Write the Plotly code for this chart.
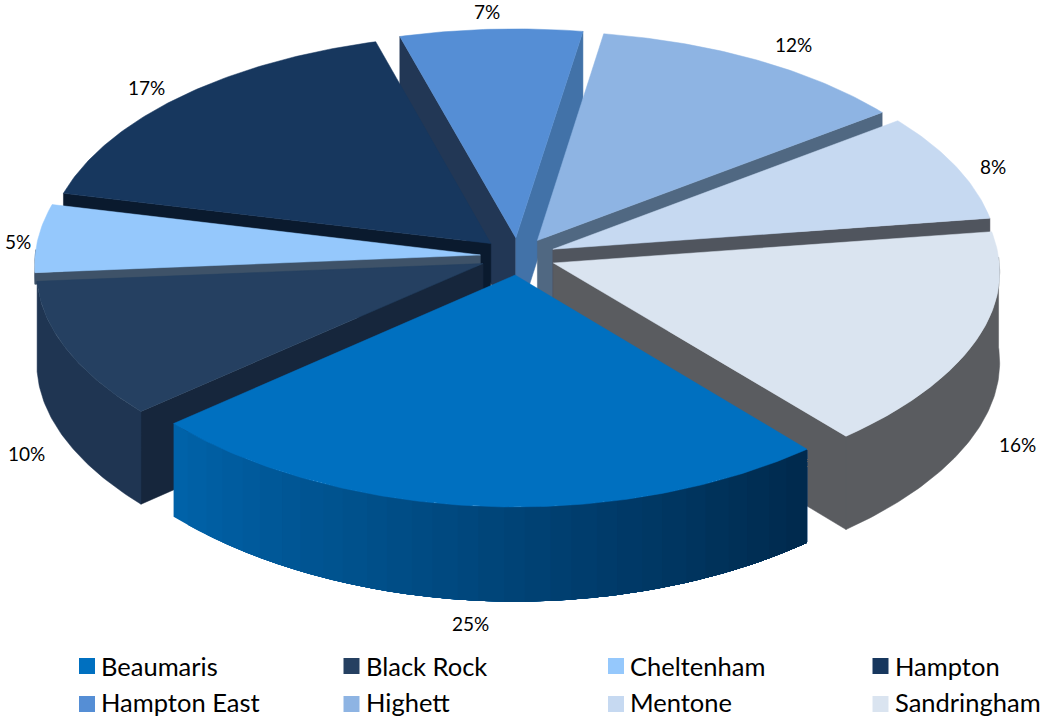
import math
import plotly.graph_objects as go

categories = ["Beaumaris", "Black Rock", "Cheltenham", "Hampton", "Hampton East", "Highett", "Mentone", "Sandringham"]
shares = [25, 10, 5, 16.88, 6.92, 12.2, 8, 16]
labels = ["25%", "10%", "5%", "17%", "7%", "12%", "8%", "16%"]

top_colors = ["#0070C0", "#254061", "#95C8FC", "#17375E", "#558ED5", "#8EB4E3", "#C6D9F1", "#DAE4F0"]
rim_colors = ["#0062A8", "#1F3552", "#3E5268", "#0A1A2E", "#4272A8", "#506882", "#50555E", "#5A5C60"]
start_wall = ["#0062A8", "#16263C", "#3E5268", "#0A1A2E", "#223755", "#506882", "#50555E", "#5A5C60"]
end_wall = ["#002A4E", "#16263C", "#3E5268", "#0A1A2E", "#4272A8", "#506882", "#50555E", "#5A5C60"]
gradient_end = ["#002A4E", None, None, None, None, None, None, None]
wall_depth = [93, 93, 12, 93, 93, 93, 93, 93]

# pixel offsets of each label from the middle of its slice's outer arc
label_dx = [-11, -40, -20, -34, -4, 36, 37, 42]
label_dy = [117, 104, 3, -9, -18, -16, 0, 103]

START = 139.4
CX, CY = 518.0, 256.4
R, EXPLODE = 460.0, 39.0
K, P, V0 = 0.4938, 1.0e-4, -330.0
NEAR_SQUEEZE = 0.022
FONT = "Lato, Carlito, sans-serif"


def project(u, v, drop=0.0):
    s = 1.0 / (1.0 + P * (v - V0))
    g = 1.0 - NEAR_SQUEEZE * (v / 330.0) ** 2 if v < 0 else 1.0
    return CX + u * s * g, CY - K * v * s + drop * s


def polar(theta, radius, bis):
    t, b = math.radians(theta), math.radians(bis)
    return radius * math.sin(t) + EXPLODE * math.sin(b), radius * math.cos(t) + EXPLODE * math.cos(b)


def mix(c1, c2, f):
    a = [int(c1[i:i + 2], 16) for i in (1, 3, 5)]
    b = [int(c2[i:i + 2], 16) for i in (1, 3, 5)]
    return "#" + "".join(f"{round(x + (y - x) * f):02X}" for x, y in zip(a, b))


fig = go.Figure()


def poly(points, color, edge=0.5):
    xs = [p[0] for p in points] + [points[0][0]]
    ys = [p[1] for p in points] + [points[0][1]]
    fig.add_trace(go.Scatter(x=xs, y=ys, mode="lines", fill="toself", fillcolor=color,
                             line=dict(color=color, width=edge), hoverinfo="skip", showlegend=False))


total = sum(shares)
slices = []
a = START
for i, share in enumerate(shares):
    b = a + 360.0 * share / total
    slices.append((i, a, b, (a + b) / 2))
    a = b

annotations = []
for i, a, b, mid in sorted(slices, key=lambda s: -math.cos(math.radians(s[3]))):
    apex = polar(0, 0, mid)
    n = max(12, int((b - a) * 1.5))
    thetas = [a + (b - a) * j / n for j in range(n + 1)]
    arc = [polar(t, R, mid) for t in thetas]
    depth = wall_depth[i]

    # walls from the apex to the rim
    if math.sin(math.radians(a)) < 0:
        poly([project(*apex), project(*arc[0]), project(*arc[0], depth), project(*apex, depth)], start_wall[i])
    if math.sin(math.radians(b)) > 0:
        poly([project(*apex), project(*arc[-1]), project(*arc[-1], depth), project(*apex, depth)], end_wall[i])

    # outer wall: only the part that faces the viewer
    front = [j for j in range(n + 1) if math.cos(math.radians(thetas[j])) < 0.03]
    if front:
        upper = [project(*arc[j]) for j in front]
        lower = [project(*arc[j], depth) for j in front]
        if gradient_end[i] is None:
            poly(upper + lower[::-1], rim_colors[i])
        else:
            # painted from the light (left) end, each band shrinking towards the dark right end
            bands = 30
            m = len(front) - 1
            for k in range(bands):
                j0 = m - int(m * k / bands)
                poly(upper[:j0 + 1] + lower[:j0 + 1][::-1],
                     mix(rim_colors[i], gradient_end[i], k / (bands - 1)), edge=0)

    # top face
    poly([project(*apex)] + [project(*p) for p in arc], top_colors[i])

    lx, ly = project(*polar(mid, R, mid))
    annotations.append(dict(x=lx, y=ly, xref="x", yref="y", text=labels[i], showarrow=False,
                            xshift=label_dx[i], yshift=-label_dy[i],
                            font=dict(family=FONT, size=19, color="#000000")))

# legend: four columns, two rows
col_x, col_text, rows_y, rows_text = 87.0, 102.0, (666.0, 704.0), (666.0, 702.0)
col_step = 264.5
for idx, (name, colour) in enumerate(zip(categories, top_colors)):
    c, r = idx % 4, idx // 4
    fig.add_trace(go.Scatter(x=[col_x + col_step * c], y=[rows_y[r]], mode="markers", name=name,
                             marker=dict(symbol="square", size=16, color=colour, line=dict(width=0)),
                             showlegend=False, hoverinfo="name"))
    annotations.append(dict(x=col_text + col_step * c, y=rows_text[r], xref="x", yref="y", text=name,
                            showarrow=False, xanchor="left", yanchor="middle", xshift=-3,
                            font=dict(family=FONT, size=25.5, color="#000000")))

fig.update_layout(
    width=1040, height=719, margin=dict(l=0, r=0, t=0, b=0),
    paper_bgcolor="#FFFFFF", plot_bgcolor="#FFFFFF", showlegend=False,
    xaxis=dict(range=[0, 1040], visible=False, fixedrange=True),
    yaxis=dict(range=[719, 0], visible=False, fixedrange=True),
    annotations=annotations,
)
fig.write_html("out.html", post_script="document.body.style.margin='0';", config={"displayModeBar": False})
